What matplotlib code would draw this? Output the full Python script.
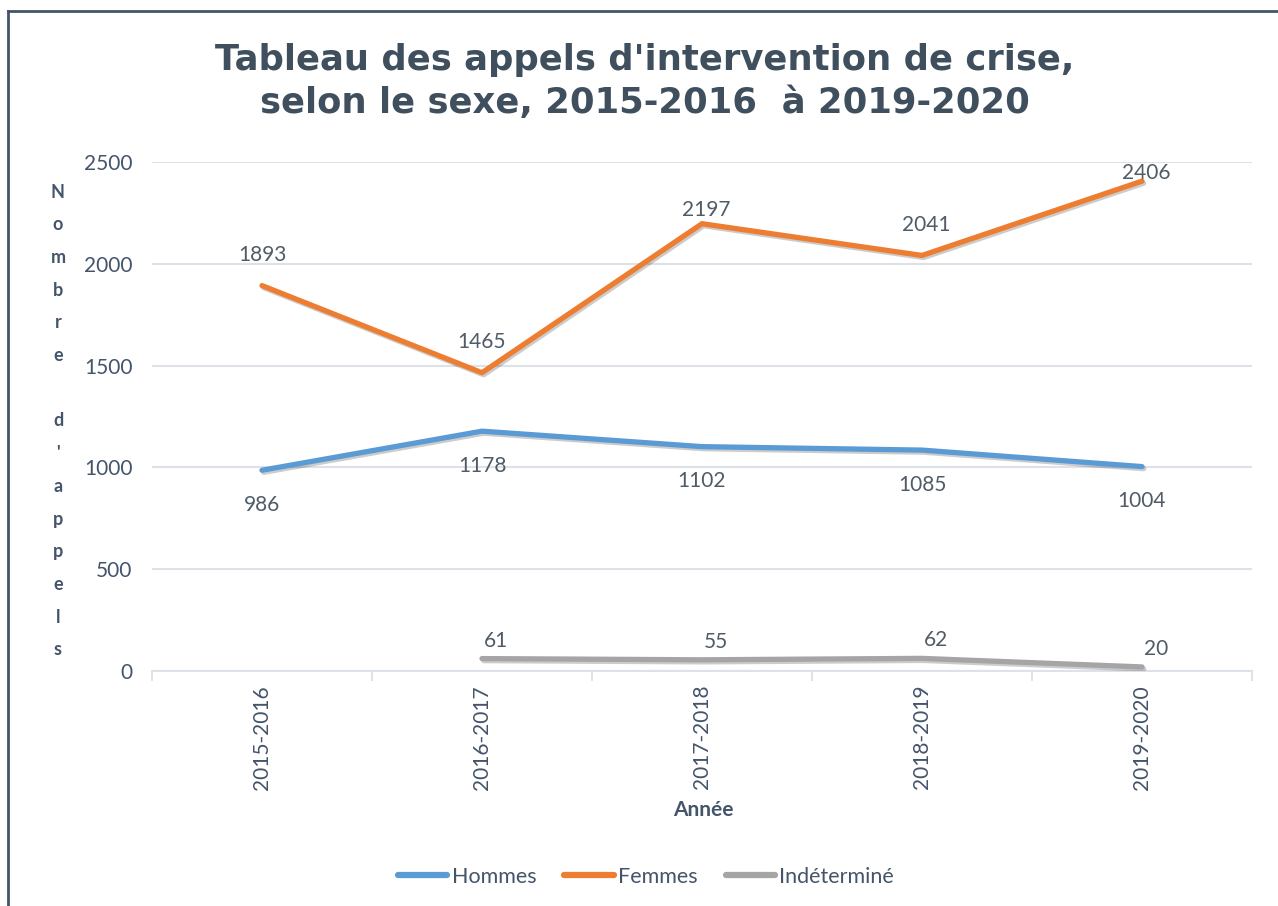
import matplotlib
matplotlib.use("Agg")
import matplotlib.pyplot as plt
import matplotlib.patheffects as pe
from matplotlib.lines import Line2D
import numpy as np

plt.rcParams['font.family'] = ['Lato', 'DejaVu Sans']

categories = ["2015-2016", "2016-2017", "2017-2018", "2018-2019", "2019-2020"]
hommes = [986, 1178, 1102, 1085, 1004]
femmes = [1893, 1465, 2197, 2041, 2406]
indetermine = [None, 61, 55, 62, 20]
series_names = ["Hommes", "Femmes", "Indéterminé"]
yticks = [0, 500, 1000, 1500, 2000, 2500]

title_lines = ["Tableau des appels d'intervention de crise,",
               "selon le sexe, 2015-2016  à 2019-2020"]
ylabel = "Nombre d'appels"
xlabel = "Année"

# style
W, H = 1278, 906
colors = ["#5B9BD5", "#ED7D31", "#A5A5A5"]
txt_col = "#44546A"
lab_col = "#4F5B66"
grid_col = "#DDE2E8"
fem_offsets = [22, 22, 10, 22, 6]   # label offsets (points) above Femmes points

fig = plt.figure(figsize=(W / 100, H / 100), dpi=100)
fig.patch.set_facecolor("white")

def fx(px):
    return px / W

def fy(py):
    return 1 - py / H

ax = fig.add_axes([fx(152), fy(671), fx(1252) - fx(152), fy(162) - fy(671)])
x = np.arange(len(categories))
shadow = [pe.SimpleLineShadow(offset=(1.2, -1.5), alpha=0.2, shadow_color="black"), pe.Normal()]

ind_x = [i for i, v in enumerate(indetermine) if v is not None]
ind_y = [v for v in indetermine if v is not None]

l1, = ax.plot(x, hommes, color=colors[0], lw=3.8, solid_capstyle="round", path_effects=shadow, zorder=3)
l2, = ax.plot(x, femmes, color=colors[1], lw=3.8, solid_capstyle="round", path_effects=shadow, zorder=3)
l3, = ax.plot(ind_x, ind_y, color=colors[2], lw=3.8, solid_capstyle="round", path_effects=shadow, zorder=3)

lab_fs = 15
for i, v in enumerate(hommes):
    ax.annotate(str(v), (x[i], v), xytext=(0, -25), textcoords="offset points",
                ha="center", va="center", fontsize=lab_fs, color=lab_col)
for i, v in enumerate(femmes):
    ax.annotate(str(v), (x[i], v), xytext=(3 if i >= 2 else 0, fem_offsets[i]), textcoords="offset points",
                ha="center", va="center", fontsize=lab_fs, color=lab_col)
for xi, v in zip(ind_x, ind_y):
    ax.annotate(str(v), (xi, v), xytext=(10, 13), textcoords="offset points",
                ha="center", va="center", fontsize=lab_fs, color=lab_col)

ax.set_xlim(-0.5, len(categories) - 0.5)
ax.set_ylim(0, 2500)
ax.set_yticks(yticks)
ax.set_yticklabels([str(t) for t in yticks])
ax.set_xticks(x)
ax.set_xticklabels(categories, rotation=90)
ax.set_xticks(np.arange(-0.5, len(categories)), minor=True)
ax.tick_params(axis="x", which="major", length=0, pad=10, labelsize=15, labelcolor=txt_col)
ax.tick_params(axis="x", which="minor", length=7, width=1.3, color=grid_col, direction="out")
ax.tick_params(axis="y", length=0, pad=14, labelsize=15, labelcolor=txt_col)
ax.grid(axis="y", color=grid_col, lw=1.5)
ax.set_axisbelow(True)
for s in ["top", "right", "left"]:
    ax.spines[s].set_visible(False)
ax.spines["bottom"].set_color(grid_col)
ax.spines["bottom"].set_linewidth(1.5)

# title
title_kw = dict(ha="center", va="center", fontsize=25.5, fontweight="bold", color="#3F4F5E",
                family=["DejaVu Sans"])
fig.text(fx(645), fy(60), title_lines[0], **title_kw)
fig.text(fx(645), fy(103), title_lines[1], **title_kw)

# vertical stacked y label
y0, step = 192, 32.7
for k, ch in enumerate(ylabel):
    if ch != " ":
        fig.text(fx(58), fy(y0 + k * step), ch, ha="center", va="center",
                 fontsize=13, fontweight="bold", color=txt_col)

fig.text(fx(703), fy(810), xlabel, ha="center", va="center", fontsize=15,
         fontweight="bold", color=txt_col)

leg = fig.legend([l1, l2, l3], series_names, loc="center", bbox_to_anchor=(fx(646), fy(877)),
                 ncol=3, frameon=False, fontsize=15.5, handlelength=2.3, handletextpad=0.2,
                 columnspacing=1.3)
for t in leg.get_texts():
    t.set_color(txt_col)
for h in leg.legend_handles:
    h.set_path_effects([])
    h.set_linewidth(4.5)

# outer border (top and left visible)
fig.add_artist(Line2D([fx(8), fx(8)], [fy(11), 0], transform=fig.transFigure, color="#44546A", lw=2))
fig.add_artist(Line2D([fx(8), 1], [fy(11), fy(11)], transform=fig.transFigure, color="#44546A", lw=2))

fig.savefig("out.png", dpi=100, facecolor="white")
